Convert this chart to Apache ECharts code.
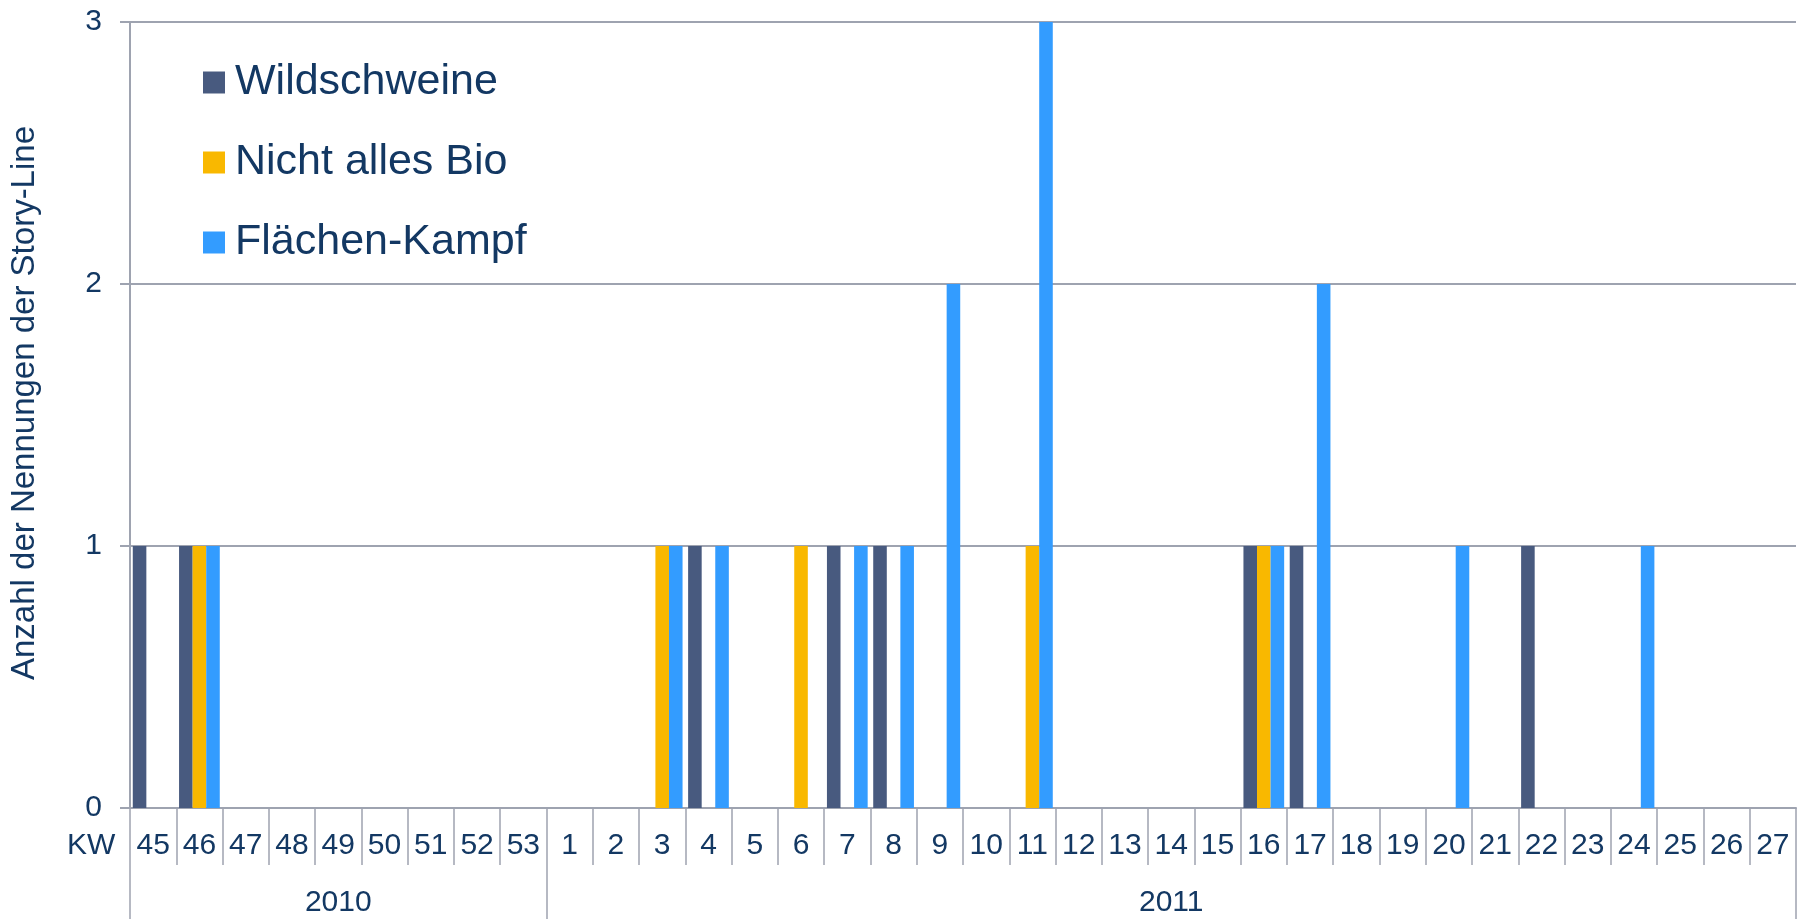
<!DOCTYPE html>
<html>
<head>
<meta charset="utf-8">
<title>Story-Line Nennungen</title>
<script src="https://cdn.jsdelivr.net/npm/echarts@6/dist/echarts.min.js"></script>
<style>
  html, body { margin: 0; padding: 0; background: #ffffff; }
  #chart { width: 1802px; height: 919px; }
</style>
</head>
<body>
<div id="chart"></div>
<script>
// Kalenderwochen, gruppiert nach Jahr
const weeks2010 = ['45', '46', '47', '48', '49', '50', '51', '52', '53'];
const weeks2011 = ['1', '2', '3', '4', '5', '6', '7', '8', '9', '10', '11', '12', '13', '14',
  '15', '16', '17', '18', '19', '20', '21', '22', '23', '24', '25', '26', '27'];
const yearLabels = ['2010', '2011'];

// Nennungen je Story-Line und Woche (2010 | 2011)
const wildschweine2010 = [1, 1, 0, 0, 0, 0, 0, 0, 0];
const wildschweine2011 = [0, 0, 0, 1, 0, 0, 1, 1, 0, 0, 0, 0, 0, 0, 0, 1, 1, 0, 0, 0, 0, 1, 0, 0, 0, 0, 0];
const nichtAllesBio2010 = [0, 1, 0, 0, 0, 0, 0, 0, 0];
const nichtAllesBio2011 = [0, 0, 1, 0, 0, 1, 0, 0, 0, 0, 1, 0, 0, 0, 0, 1, 0, 0, 0, 0, 0, 0, 0, 0, 0, 0, 0];
const flaechenKampf2010 = [0, 1, 0, 0, 0, 0, 0, 0, 0];
const flaechenKampf2011 = [0, 0, 1, 1, 0, 0, 1, 1, 2, 0, 3, 0, 0, 0, 0, 1, 2, 0, 0, 1, 0, 0, 0, 1, 0, 0, 0];

const yTicks = [0, 1, 2, 3];

const weekGroups = [weeks2010, weeks2011];
const weeks = [].concat(...weekGroups);

// Zweite Achsenebene: Jahreszahl mittig unter ihrer Wochengruppe
const yearAxisData = [];
const yearStarts = [];
weekGroups.forEach((g, gi) => {
  yearStarts.push(yearAxisData.length);
  g.forEach((w, i) => yearAxisData.push(i === Math.floor(g.length / 2) ? yearLabels[gi] : ''));
});

const FONT = '"Liberation Sans", Arial, sans-serif';
const TEXT = '#133863';
const LINE = '#9ea3b0';
const TICK_FONT = 30;

const chart = echarts.init(document.getElementById('chart'), null, { renderer: 'canvas' });

chart.setOption({
  animation: false,
  backgroundColor: '#ffffff',
  textStyle: { fontFamily: FONT },
  // Beschriftung der Wochenzeile links neben der Achse
  title: {
    text: 'KW',
    left: 67,
    top: 830,
    padding: 0,
    textStyle: { color: TEXT, fontSize: TICK_FONT, fontWeight: 'normal', fontFamily: FONT, lineHeight: 32 }
  },
  grid: { left: 129, right: 6, top: 22, bottom: 111, containLabel: false },
  legend: {
    orient: 'vertical',
    left: 198,
    top: 56,
    itemWidth: 22,
    itemHeight: 22,
    itemGap: 37,
    icon: 'rect',
    selectedMode: false,
    textStyle: { color: TEXT, fontSize: 43, lineHeight: 42, fontFamily: FONT, padding: [0, 0, 0, 5] },
    data: ['Wildschweine', 'Nicht alles Bio', 'Flächen-Kampf']
  },
  xAxis: [
    {
      type: 'category',
      data: weeks,
      position: 'bottom',
      boundaryGap: true,
      axisLine: { show: true, lineStyle: { color: LINE, width: 2 } },
      axisTick: { show: true, interval: 0, length: 57, lineStyle: { color: LINE, width: 1.5 } },
      axisLabel: { interval: 0, color: TEXT, fontSize: TICK_FONT, fontFamily: FONT, margin: 38, verticalAlign: 'middle' },
      splitLine: { show: false }
    },
    {
      type: 'category',
      data: yearAxisData,
      position: 'bottom',
      boundaryGap: true,
      silent: true,
      axisLine: { show: false },
      axisTick: {
        show: true,
        length: 115,
        interval: (idx) => yearStarts.indexOf(idx) !== -1,
        lineStyle: { color: LINE, width: 1.5 }
      },
      axisLabel: {
        interval: (idx, val) => val !== '',
        color: TEXT, fontSize: TICK_FONT, fontFamily: FONT, margin: 95, verticalAlign: 'middle'
      },
      splitLine: { show: false }
    }
  ],
  yAxis: {
    type: 'value',
    min: yTicks[0],
    max: yTicks[yTicks.length - 1],
    interval: 1,
    name: 'Anzahl der Nennungen der Story-Line',
    nameLocation: 'middle',
    nameRotate: 90,
    nameGap: 89,
    nameTextStyle: { color: TEXT, fontSize: 33, fontFamily: FONT, padding: [0, 0, 0, 24] },
    axisLine: { show: true, lineStyle: { color: LINE, width: 2 } },
    axisTick: { show: true, length: 10, lineStyle: { color: LINE, width: 2 } },
    axisLabel: { color: TEXT, fontSize: TICK_FONT, fontFamily: FONT, margin: 28 },
    splitLine: { show: true, lineStyle: { color: LINE, width: 2 } }
  },
  series: [
    {
      name: 'Wildschweine',
      type: 'bar',
      xAxisIndex: 0,
      data: wildschweine2010.concat(wildschweine2011),
      itemStyle: { color: '#485a7f' },
      barGap: '0%',
      barCategoryGap: '12%'
    },
    {
      name: 'Nicht alles Bio',
      type: 'bar',
      xAxisIndex: 0,
      data: nichtAllesBio2010.concat(nichtAllesBio2011),
      itemStyle: { color: '#f9b800' },
      barGap: '0%',
      barCategoryGap: '12%'
    },
    {
      name: 'Flächen-Kampf',
      type: 'bar',
      xAxisIndex: 0,
      data: flaechenKampf2010.concat(flaechenKampf2011),
      itemStyle: { color: '#339cff' },
      barGap: '0%',
      barCategoryGap: '12%'
    }
  ]
});
</script>
</body>
</html>
